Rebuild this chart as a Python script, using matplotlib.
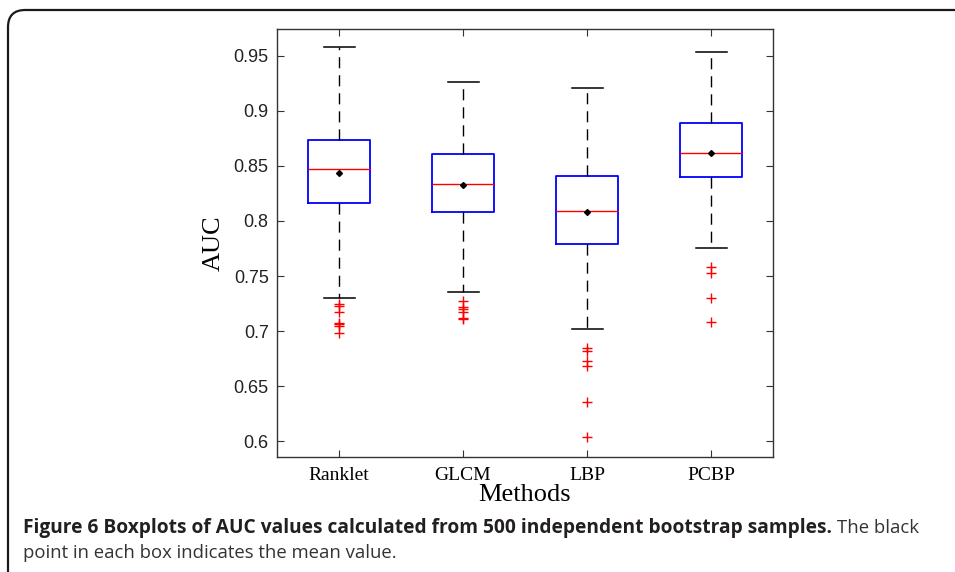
import matplotlib
matplotlib.use('Agg')
import matplotlib.pyplot as plt
from matplotlib.patches import FancyBboxPatch

methods = ['Ranklet', 'GLCM', 'LBP', 'PCBP']
whis_lo = [0.7297, 0.7352, 0.7015, 0.7752]
q1 = [0.8160, 0.8079, 0.7790, 0.8397]
medians = [0.8470, 0.8339, 0.8091, 0.8618]
q3 = [0.8740, 0.8606, 0.8406, 0.8894]
whis_hi = [0.9580, 0.9266, 0.9209, 0.9534]
means = [0.8436, 0.8327, 0.8079, 0.8615]
fliers = [
    [0.7250, 0.7227, 0.7175, 0.7075, 0.7064, 0.7045, 0.6980],
    [0.7276, 0.7221, 0.7200, 0.7175, 0.7115, 0.7110],
    [0.6850, 0.6820, 0.6725, 0.6680, 0.6357, 0.6033],
    [0.7585, 0.7525, 0.7297, 0.7085],
]
yticks = [0.6, 0.65, 0.7, 0.75, 0.8, 0.85, 0.9, 0.95]

W, H = 955, 572
fig = plt.figure(figsize=(W / 100, H / 100), dpi=100)

# outer rounded frame (runs off the right and bottom edges)
frame = FancyBboxPatch((8 / W, -0.2), 1.2, 1 - 10 / H + 0.2,
                       boxstyle='round,pad=0,rounding_size=0.018',
                       transform=fig.transFigure, fill=False,
                       edgecolor='#1a1a1a', linewidth=1.6, mutation_aspect=W / H)
fig.patches.append(frame)

ax = fig.add_axes([277 / W, 1 - 457 / H, (773 - 277) / W, (457 - 29) / H])

stats = []
for i in range(len(methods)):
    stats.append({'label': methods[i], 'whislo': whis_lo[i], 'q1': q1[i], 'med': medians[i],
                  'q3': q3[i], 'whishi': whis_hi[i], 'mean': means[i], 'fliers': fliers[i]})

ax.bxp(stats, widths=0.5, showmeans=True, showfliers=True, capwidths=0.25,
       boxprops=dict(color='blue', linewidth=1.3),
       medianprops=dict(color='red', linewidth=1.0),
       whiskerprops=dict(color='black', linewidth=1.0, linestyle=(0, (8, 5))),
       capprops=dict(color='black', linewidth=1.1),
       flierprops=dict(marker='+', markeredgecolor='red', markersize=7.5, markeredgewidth=1.0),
       meanprops=dict(marker='D', markerfacecolor='black', markeredgecolor='black', markersize=3))

ax.set_xlim(0.5, 4.5)
ax.set_ylim(0.5855, 0.9745)
ax.set_yticks(yticks)
ax.set_yticklabels(['%g' % v for v in yticks], fontfamily='Liberation Sans', fontsize=13, color='#222222')
ax.set_xticks(range(1, len(methods) + 1))
ax.set_xticklabels(methods, fontfamily='Liberation Serif', fontsize=14)
ax.tick_params(direction='in', top=True, right=True, length=5, width=0.8, color='#333333')
ax.tick_params(axis='x', pad=7)
ax.tick_params(axis='y', pad=6)
for sp in ax.spines.values():
    sp.set_color('#333333')
    sp.set_linewidth(1.0)

ax.set_ylabel('AUC', fontfamily='Liberation Serif', fontsize=19, labelpad=6)
ax.set_xlabel('Methods', fontfamily='Liberation Serif', fontsize=19, labelpad=0)

# caption: bold part followed by regular text, sized to the reference width
cap_color = '#231f20'
cap_font = 'Open Sans'
bold_txt = 'Figure 6 Boxplots of AUC values calculated from 500 independent bootstrap samples.'
t1 = fig.text(23 / W, 1 - 533 / H, bold_txt, fontfamily=cap_font, fontweight='bold',
              fontsize=13, color=cap_color, va='baseline')
fig.canvas.draw()
bb = t1.get_window_extent()
size = 13 * (822 - 23) / bb.width
t1.set_fontsize(size)
fig.canvas.draw()
bb = t1.get_window_extent()
fig.text((bb.x1 + 5) / W, 1 - 533 / H, 'The black', fontfamily=cap_font, fontsize=size * 0.97,
         color='#333333', va='baseline')
fig.text(23 / W, 1 - 558 / H, 'point in each box indicates the mean value.', fontfamily=cap_font,
         fontsize=size * 0.97, color='#333333', va='baseline')

fig.savefig('out.png', dpi=100)
